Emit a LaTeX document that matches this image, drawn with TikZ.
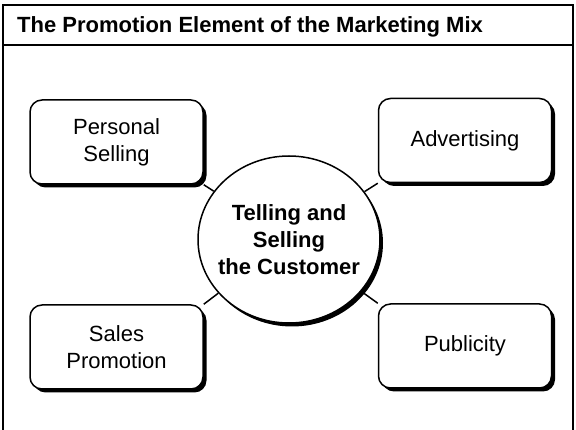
\documentclass[tikz,border=0pt]{standalone}
\usepackage{fontspec}
\setmainfont{Liberation Sans}
\usetikzlibrary{shapes.geometric,shadows,backgrounds}

\begin{document}
\begin{tikzpicture}[x=1pt,y=-1pt,
  mixbox/.style={draw,line width=1.5pt,rounded corners=12pt,fill=white,minimum width=173pt,minimum height=84pt,align=center,font=\fontsize{22}{27}\selectfont,drop shadow={shadow xshift=3.5pt,shadow yshift=-3.5pt,opacity=1,fill=black}},
  hub/.style={ellipse,draw,line width=1.5pt,fill=white,minimum width=182pt,minimum height=167pt,inner xsep=-7.2pt,inner ysep=0pt,align=center,font=\fontsize{22}{27}\selectfont\bfseries,drop shadow={shadow xshift=3pt,shadow yshift=-3.5pt,opacity=1,fill=black}},
  link/.style={draw,line width=1.5pt}]
\useasboundingbox (0,0) rectangle (576,430);
\draw[line width=2pt] (3,431) -- (3,5) -- (573,5) -- (573,431);
\draw[line width=2pt] (3,45) -- (573,45);
\node[anchor=base west,inner sep=0pt,font=\fontsize{22}{27}\selectfont\bfseries] (t) at (17,33) {The Promotion Element of the Marketing Mix};
\node[hub] (0) at (289,239.5) {Telling and\\Selling\\the Customer};
\node[mixbox] (1) at (116.5,142) {Personal\\Selling};
\node[mixbox] (2) at (465,140.5) {Advertising};
\node[mixbox] (3) at (116.5,347) {Sales\\Promotion};
\node[mixbox] (4) at (465,346) {Publicity};
\begin{scope}[on background layer]
\path[link](0) edge (1.south east);
\path[link](0) edge (2.south west);
\path[link](0) edge (3.north east);
\path[link](0) edge (4.north west);
\end{scope}
\end{tikzpicture}
\end{document}
